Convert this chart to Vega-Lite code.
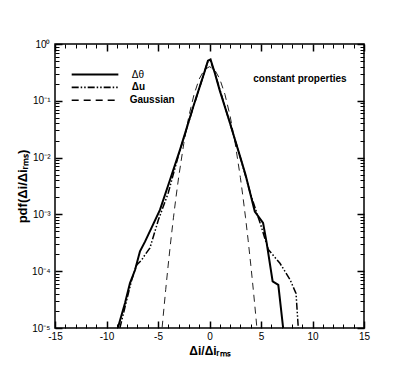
{
  "$schema": "https://vega.github.io/schema/vega-lite/v6.json",
  "width": 309,
  "height": 284,
  "autosize": {"type": "none"},
  "padding": {"left": 55, "top": 44, "right": 51, "bottom": 42},
  "config": {
    "view": {"stroke": "black", "strokeWidth": 1.5},
    "font": "Liberation Sans",
    "axis": {"domain": false, "grid": false, "tickColor": "black", "labelColor": "black", "titleColor": "black", "labelFont": "Liberation Sans", "titleFont": "Liberation Sans", "labelFlush": false}
  },
  "datasets": {
    "curves": [
      {"series": "Gaussian", "x": -4.6, "pdf": 0.0000101},
      {"series": "Gaussian", "x": -4.5, "pdf": 0.00001598},
      {"series": "Gaussian", "x": -4.25, "pdf": 0.0000477},
      {"series": "Gaussian", "x": -4.0, "pdf": 0.0001338},
      {"series": "Gaussian", "x": -3.75, "pdf": 0.000353},
      {"series": "Gaussian", "x": -3.5, "pdf": 0.0008727},
      {"series": "Gaussian", "x": -3.25, "pdf": 0.00203},
      {"series": "Gaussian", "x": -3.0, "pdf": 0.004432},
      {"series": "Gaussian", "x": -2.5, "pdf": 0.01753},
      {"series": "Gaussian", "x": -2.0, "pdf": 0.05399},
      {"series": "Gaussian", "x": -1.5, "pdf": 0.1295},
      {"series": "Gaussian", "x": -1.0, "pdf": 0.242},
      {"series": "Gaussian", "x": -0.5, "pdf": 0.3521},
      {"series": "Gaussian", "x": 0.0, "pdf": 0.3989},
      {"series": "Gaussian", "x": 0.5, "pdf": 0.3521},
      {"series": "Gaussian", "x": 1.0, "pdf": 0.242},
      {"series": "Gaussian", "x": 1.5, "pdf": 0.1295},
      {"series": "Gaussian", "x": 2.0, "pdf": 0.05399},
      {"series": "Gaussian", "x": 2.5, "pdf": 0.01753},
      {"series": "Gaussian", "x": 3.0, "pdf": 0.004432},
      {"series": "Gaussian", "x": 3.25, "pdf": 0.00203},
      {"series": "Gaussian", "x": 3.5, "pdf": 0.0008727},
      {"series": "Gaussian", "x": 3.75, "pdf": 0.000353},
      {"series": "Gaussian", "x": 4.0, "pdf": 0.0001338},
      {"series": "Gaussian", "x": 4.25, "pdf": 0.0000477},
      {"series": "Gaussian", "x": 4.5, "pdf": 0.00001598},
      {"series": "Gaussian", "x": 4.6, "pdf": 0.0000101},

      {"series": "Δθ", "x": -8.9, "pdf": 0.00001},
      {"series": "Δθ", "x": -8.2, "pdf": 0.0000275},
      {"series": "Δθ", "x": -7.72, "pdf": 0.0000617},
      {"series": "Δθ", "x": -7.23, "pdf": 0.000105},
      {"series": "Δθ", "x": -6.75, "pdf": 0.000224},
      {"series": "Δθ", "x": -6.26, "pdf": 0.000331},
      {"series": "Δθ", "x": -4.81, "pdf": 0.0012},
      {"series": "Δθ", "x": -3.83, "pdf": 0.00407},
      {"series": "Δθ", "x": -2.86, "pdf": 0.0138},
      {"series": "Δθ", "x": -1.57, "pdf": 0.0794},
      {"series": "Δθ", "x": -0.5, "pdf": 0.316},
      {"series": "Δθ", "x": -0.15, "pdf": 0.51},
      {"series": "Δθ", "x": 0.1, "pdf": 0.537},
      {"series": "Δθ", "x": 0.5, "pdf": 0.316},
      {"series": "Δθ", "x": 1.0, "pdf": 0.151},
      {"series": "Δθ", "x": 2.0, "pdf": 0.0398},
      {"series": "Δθ", "x": 3.0, "pdf": 0.01},
      {"series": "Δθ", "x": 3.5, "pdf": 0.00501},
      {"series": "Δθ", "x": 4.4, "pdf": 0.00112},
      {"series": "Δθ", "x": 5.2, "pdf": 0.000708},
      {"series": "Δθ", "x": 5.55, "pdf": 0.000316},
      {"series": "Δθ", "x": 6.13, "pdf": 0.0000661},
      {"series": "Δθ", "x": 6.68, "pdf": 0.0000575},
      {"series": "Δθ", "x": 7.15, "pdf": 0.00001},

      {"series": "Δu", "x": -8.7, "pdf": 0.00001},
      {"series": "Δu", "x": -8.04, "pdf": 0.0000309},
      {"series": "Δu", "x": -7.55, "pdf": 0.0000708},
      {"series": "Δu", "x": -7.07, "pdf": 0.000129},
      {"series": "Δu", "x": -6.58, "pdf": 0.000158},
      {"series": "Δu", "x": -6.26, "pdf": 0.000195},
      {"series": "Δu", "x": -5.78, "pdf": 0.000257},
      {"series": "Δu", "x": -4.97, "pdf": 0.000794},
      {"series": "Δu", "x": -4.0, "pdf": 0.0024},
      {"series": "Δu", "x": -3.0, "pdf": 0.0112},
      {"series": "Δu", "x": -1.5, "pdf": 0.0851},
      {"series": "Δu", "x": -0.5, "pdf": 0.316},
      {"series": "Δu", "x": -0.15, "pdf": 0.5},
      {"series": "Δu", "x": 0.1, "pdf": 0.5},
      {"series": "Δu", "x": 0.5, "pdf": 0.316},
      {"series": "Δu", "x": 2.0, "pdf": 0.0398},
      {"series": "Δu", "x": 3.0, "pdf": 0.01},
      {"series": "Δu", "x": 4.0, "pdf": 0.00224},
      {"series": "Δu", "x": 5.0, "pdf": 0.000631},
      {"series": "Δu", "x": 5.71, "pdf": 0.00024},
      {"series": "Δu", "x": 6.84, "pdf": 0.000138},
      {"series": "Δu", "x": 7.82, "pdf": 0.0000708},
      {"series": "Δu", "x": 8.4, "pdf": 0.0000407},
      {"series": "Δu", "x": 8.62, "pdf": 0.00001}
    ],
    "legend": [
      {"series": "Δθ", "x": -13.38, "pdf": 0.29},
      {"series": "Δθ", "x": -8.85, "pdf": 0.29},
      {"series": "Δu", "x": -13.38, "pdf": 0.173},
      {"series": "Δu", "x": -8.85, "pdf": 0.173},
      {"series": "Gaussian", "x": -13.38, "pdf": 0.102},
      {"series": "Gaussian", "x": -8.85, "pdf": 0.102}
    ],
    "labels": [
      {"label": "Δθ", "x": -7.55, "pdf": 0.29, "weight": "normal"},
      {"label": "Δu", "x": -7.55, "pdf": 0.173, "weight": "bold"},
      {"label": "Gaussian", "x": -7.75, "pdf": 0.102, "weight": "bold"},
      {"label": "constant properties", "x": 4.25, "pdf": 0.243, "weight": "bold"}
    ]
  },
  "layer": [
    {
      "data": {"name": "curves"},
      "transform": [{"filter": "datum.series === 'Gaussian'"}],
      "mark": {"type": "line", "color": "#222222", "strokeWidth": 1, "strokeDash": [7, 5], "clip": true},
      "encoding": {
        "x": {"field": "x", "type": "quantitative", "sort": null, "scale": {"domain": [-15, 15], "nice": false, "zero": false},
          "axis": {"orient": "bottom", "values": [-15, -10, -5, 0, 5, 10, 15], "tickSize": -7, "tickWidth": 1.5, "labelPadding": 10, "labelExpr": "'' + datum.value", "labelFontSize": 10, "title": "Δi/Δiᵣₘₛ", "titleFontSize": 12, "titleFontWeight": "bold", "titlePadding": 4}},
        "y": {"field": "pdf", "type": "quantitative", "scale": {"type": "log", "domain": [0.00001, 1], "nice": false},
          "axis": {"orient": "left", "values": [0.00001, 0.0001, 0.001, 0.01, 0.1, 1], "tickSize": -7, "tickWidth": 1.5, "labelPadding": 12, "labelExpr": "'10' + ['⁰','⁻¹','⁻²','⁻³','⁻⁴','⁻⁵'][round(-log(datum.value)/LN10)]", "labelFontSize": 10, "title": "pdf(Δi/Δiᵣₘₛ)", "titleFontSize": 13, "titleFontWeight": "bold", "titlePadding": 2}}
      }
    },
    {
      "data": {"name": "curves"},
      "transform": [{"filter": "datum.series === 'Δθ'"}],
      "mark": {"type": "line", "color": "black", "strokeWidth": 2, "clip": true},
      "encoding": {
        "x": {"field": "x", "type": "quantitative", "sort": null, "scale": {"domain": [-15, 15], "nice": false, "zero": false},
          "axis": {"orient": "bottom", "values": [-14,-13,-12,-11,-9,-8,-7,-6,-4,-3,-2,-1,1,2,3,4,6,7,8,9,11,12,13,14], "tickSize": -4, "tickWidth": 1, "labels": false, "title": null}},
        "y": {"field": "pdf", "type": "quantitative", "scale": {"type": "log", "domain": [0.00001, 1], "nice": false},
          "axis": {"orient": "left", "values": [0.00002,0.00003,0.00004,0.00005,0.00006,0.00007,0.00008,0.00009,0.0002,0.0003,0.0004,0.0005,0.0006,0.0007,0.0008,0.0009,0.002,0.003,0.004,0.005,0.006,0.007,0.008,0.009,0.02,0.03,0.04,0.05,0.06,0.07,0.08,0.09,0.2,0.3,0.4,0.5,0.6,0.7,0.8,0.9], "tickSize": -4, "tickWidth": 1, "labels": false, "title": null}}
      }
    },
    {
      "data": {"name": "curves"},
      "transform": [{"filter": "datum.series === 'Δu'"}],
      "mark": {"type": "line", "color": "black", "strokeWidth": 1.5, "strokeDash": [7, 2, 1.5, 2, 1.5, 2], "clip": true},
      "encoding": {
        "x": {"field": "x", "type": "quantitative", "sort": null, "scale": {"domain": [-15, 15], "nice": false, "zero": false},
          "axis": {"orient": "top", "values": [-15, -10, -5, 0, 5, 10, 15], "tickSize": -7, "tickWidth": 1.5, "labels": false, "title": null}},
        "y": {"field": "pdf", "type": "quantitative", "scale": {"type": "log", "domain": [0.00001, 1], "nice": false},
          "axis": {"orient": "right", "values": [0.00001, 0.0001, 0.001, 0.01, 0.1, 1], "tickSize": -7, "tickWidth": 1.5, "labels": false, "title": null}}
      }
    },
    {
      "data": {"name": "legend"},
      "mark": {"type": "line", "color": "black"},
      "encoding": {
        "x": {"field": "x", "type": "quantitative", "sort": null, "scale": {"domain": [-15, 15], "nice": false, "zero": false},
          "axis": {"orient": "top", "values": [-14,-13,-12,-11,-9,-8,-7,-6,-4,-3,-2,-1,1,2,3,4,6,7,8,9,11,12,13,14], "tickSize": -4, "tickWidth": 1, "labels": false, "title": null}},
        "y": {"field": "pdf", "type": "quantitative", "scale": {"type": "log", "domain": [0.00001, 1], "nice": false},
          "axis": {"orient": "right", "values": [0.00002,0.00003,0.00004,0.00005,0.00006,0.00007,0.00008,0.00009,0.0002,0.0003,0.0004,0.0005,0.0006,0.0007,0.0008,0.0009,0.002,0.003,0.004,0.005,0.006,0.007,0.008,0.009,0.02,0.03,0.04,0.05,0.06,0.07,0.08,0.09,0.2,0.3,0.4,0.5,0.6,0.7,0.8,0.9], "tickSize": -4, "tickWidth": 1, "labels": false, "title": null}},
        "strokeDash": {"field": "series", "type": "nominal", "scale": {"domain": ["Δθ", "Δu", "Gaussian"], "range": [[1, 0], [7, 2, 1.5, 2, 1.5, 2], [7, 5]]}, "legend": null},
        "strokeWidth": {"field": "series", "type": "nominal", "scale": {"domain": ["Δθ", "Δu", "Gaussian"], "range": [2, 1.5, 1]}, "legend": null}
      }
    },
    {
      "data": {"name": "labels"},
      "transform": [{"filter": "datum.weight === 'normal'"}],
      "mark": {"type": "text", "align": "left", "baseline": "middle", "fontSize": 10, "color": "black"},
      "encoding": {
        "x": {"field": "x", "type": "quantitative", "axis": null},
        "y": {"field": "pdf", "type": "quantitative", "axis": null},
        "text": {"field": "label"}
      }
    },
    {
      "data": {"name": "labels"},
      "transform": [{"filter": "datum.weight === 'bold'"}],
      "mark": {"type": "text", "align": "left", "baseline": "middle", "fontSize": 10, "fontWeight": "bold", "color": "black"},
      "encoding": {
        "x": {"field": "x", "type": "quantitative", "axis": null},
        "y": {"field": "pdf", "type": "quantitative", "axis": null},
        "text": {"field": "label"}
      }
    }
  ],
  "resolve": {"axis": {"x": "independent", "y": "independent"}}
}
